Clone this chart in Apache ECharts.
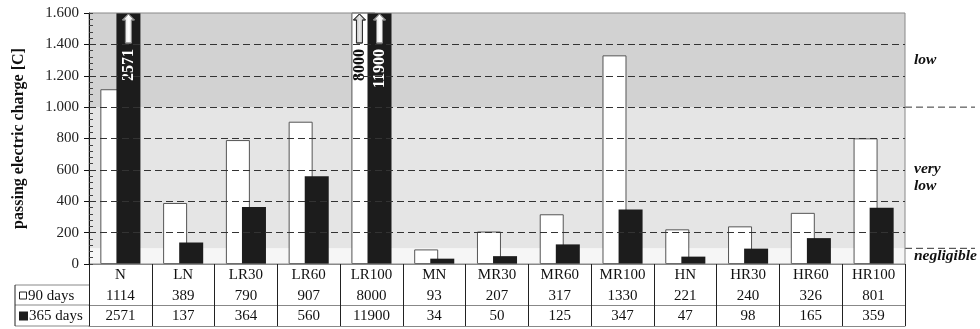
<!DOCTYPE html>
<html>
<head>
<meta charset="utf-8">
<script src="https://cdn.jsdelivr.net/npm/echarts@6/dist/echarts.min.js"></script>
<style>
  html, body { margin: 0; padding: 0; background: #fff; }
  #chart { width: 980px; height: 329px; }
</style>
</head>
<body>
<div id="chart"></div>
<script>
// Passing electric charge per mix, after 90 and 365 days
const categories = ['N', 'LN', 'LR30', 'LR60', 'LR100', 'MN', 'MR30', 'MR60', 'MR100', 'HN', 'HR30', 'HR60', 'HR100'];
const days90  = [1114, 389, 790, 907, 8000, 93, 207, 317, 1330, 221, 240, 326, 801];
const days365 = [2571, 137, 364, 560, 11900, 34, 50, 125, 347, 47, 98, 165, 359];
const seriesNames = ['90 days', '365 days'];

// Risk classes shown as shaded bands
const bandNames  = ['negligible', 'very\nlow', 'low'];
const bandLimits = [0, 100, 1000, 1600];
const gridValues = [200, 400, 600, 800, 1000, 1200, 1400];

const Y_MAX = 1600;
const SERIF = '"Liberation Serif", "Times New Roman", serif';
const BAR_W = 24;
const BAR_GAP = '-33%';
const BAND_COLORS = ['#f6f6f6', '#e5e5e5', '#d2d2d2'];

const chart = echarts.init(document.getElementById('chart'), null, { renderer: 'canvas' });

const fmtThousands = v => v >= 1000 ? Math.floor(v / 1000) + '.' + String(v % 1000).padStart(3, '0') : String(v);

// Values beyond the axis maximum get an arrow and a rotated value label
const overflow = [];
[days90, days365].forEach((arr, s) => arr.forEach((v, i) => { if (v > Y_MAX) overflow.push([i, v, s]); }));

function tableAxis(data, offset, showLabels, lineColor) {
  return {
    type: 'category', data: data, position: 'bottom', offset: offset, z: 4,
    axisLine: { show: true, lineStyle: { color: lineColor, width: 1 } },
    axisTick: { show: false },
    axisLabel: { show: showLabels, interval: 0, margin: 4, fontFamily: SERIF, fontSize: 15, color: '#111' },
    splitLine: { show: false }
  };
}

const option = {
  animation: false,
  backgroundColor: '#fff',
  grid: { left: 89, right: 75, top: 13, bottom: 65, show: true, borderColor: '#888', borderWidth: 1, backgroundColor: 'transparent', z: 3 },
  xAxis: [
    {
      type: 'category', data: categories, position: 'bottom', z: 4,
      axisLine: { show: true, lineStyle: { color: '#111', width: 1 } },
      axisTick: { show: true, interval: 0, alignWithLabel: false, length: 62, lineStyle: { color: '#222' } },
      axisLabel: { interval: 0, margin: 4, fontFamily: SERIF, fontSize: 15, color: '#111' },
      splitLine: { show: false }
    },
    tableAxis(days90.map(String), 21, true, '#888'),
    tableAxis(days365.map(String), 41, true, '#888'),
    tableAxis(categories.map(() => ''), 62, false, '#888')
  ],
  yAxis: [
    {
      type: 'value', min: 0, max: Y_MAX, interval: 200, z: 4,
      name: 'passing electric charge [C]', nameLocation: 'middle', nameRotate: 90, nameGap: 62,
      nameTextStyle: { fontFamily: SERIF, fontSize: 16, fontWeight: 'bold', color: '#111' },
      axisLine: { show: true, lineStyle: { color: '#111', width: 1 } },
      axisTick: { show: true, length: 5, lineStyle: { color: '#111' } },
      axisLabel: { margin: 10, fontFamily: SERIF, fontSize: 15, color: '#222', formatter: fmtThousands },
      splitLine: { show: false }
    },
    {
      // minor tick marks on the inner side of the axis
      type: 'value', min: 0, max: Y_MAX, interval: 40, position: 'left', z: 4,
      axisLine: { show: false },
      axisTick: { show: true, inside: true, length: 4, lineStyle: { color: '#444' } },
      axisLabel: { show: false },
      splitLine: { show: false }
    }
  ],
  series: [
    {
      type: 'line', data: [], z: 0, silent: true,
      markArea: {
        silent: true,
        label: { show: false },
        data: bandNames.map((n, k) => [
          { yAxis: bandLimits[k], itemStyle: { color: BAND_COLORS[k] } },
          { yAxis: bandLimits[k + 1] }
        ])
      }
    },
    {
      type: 'line', data: [], z: 1, silent: true,
      markLine: {
        silent: true, symbol: 'none',
        label: { show: false },
        lineStyle: { type: [7, 4], color: '#333', width: 1 },
        data: gridValues.map(v => ({ yAxis: v }))
      }
    },
    {
      name: seriesNames[0], type: 'bar', data: days90, z: 2,
      barWidth: BAR_W, barGap: BAR_GAP,
      itemStyle: { color: '#fff', borderColor: '#555', borderWidth: 1 }
    },
    {
      name: seriesNames[1], type: 'bar', data: days365, z: 2,
      barWidth: BAR_W, barGap: BAR_GAP,
      itemStyle: { color: '#1c1c1c' }
    },
    {
      type: 'custom', data: overflow, z: 3, clip: false, silent: true,
      renderItem: function (params, api) {
        const i = api.value(0), v = api.value(1), s = api.value(2);
        const base = api.coord([i, Y_MAX]);
        let lay = api.barLayout ? api.barLayout({ barWidth: BAR_W, barGap: BAR_GAP, count: 2 }) : null;
        let off0, off1;
        if (lay && lay.length === 2 && lay[0].offset != null) {
          off0 = lay[0].offset; off1 = lay[1].offset;
        } else {
          const gap = -0.33 * BAR_W;
          const total = 2 * BAR_W + gap;
          off0 = -total / 2; off1 = off0 + BAR_W + gap;
        }
        let cx;
        if (s === 0) {
          // centre of the visible part of the front-covered bar
          cx = base[0] + off0 + (off1 - off0) / 2;
        } else {
          cx = base[0] + off1 + BAR_W / 2;
        }
        const top = base[1] + 1;
        const pts = [
          [cx, top], [cx + 6, top + 6], [cx + 3, top + 6], [cx + 3, top + 29],
          [cx - 3, top + 29], [cx - 3, top + 6], [cx - 6, top + 6]
        ];
        const arrowFill = s === 1
          ? { type: 'linear', x: 0, y: 0, x2: 1, y2: 0, colorStops: [{ offset: 0, color: '#c8c8c8' }, { offset: 0.5, color: '#ffffff' }, { offset: 1, color: '#d8d8d8' }] }
          : { type: 'linear', x: 0, y: 0, x2: 1, y2: 0, colorStops: [{ offset: 0, color: '#9a9a9a' }, { offset: 0.5, color: '#e8e8e8' }, { offset: 1, color: '#b0b0b0' }] };
        return {
          type: 'group',
          children: [
            {
              type: 'polygon',
              shape: { points: pts },
              style: { fill: arrowFill, stroke: s === 1 ? '#888' : '#333', lineWidth: 1 }
            },
            {
              type: 'text',
              x: cx, y: top + 35,
              rotation: Math.PI / 2,
              style: {
                text: String(v), align: 'right', verticalAlign: 'middle',
                fill: s === 1 ? '#fff' : '#111',
                font: 'bold 16px ' + SERIF
              }
            }
          ]
        };
      }
    }
  ]
};

chart.setOption(option);

// Band labels on the right, outer dashed class limits and the table legend cells
function drawExtras() {
  const yPx = v => chart.convertToPixel({ yAxisIndex: 0 }, v);
  const xRight = 980 - option.grid.right;
  const yBase = yPx(0);
  const leftX = option.grid.left;
  const els = [];

  [bandLimits[1], bandLimits[2]].forEach(v => {
    els.push({
      type: 'line', silent: true,
      shape: { x1: xRight, y1: yPx(v), x2: 975, y2: yPx(v) },
      style: { stroke: '#333', lineWidth: 1, lineDash: [7, 4] }
    });
  });

  bandNames.forEach((n, k) => {
    const mid = (bandLimits[k] + bandLimits[k + 1]) / 2;
    els.push({
      type: 'text', silent: true, x: xRight + 9, y: yPx(mid),
      style: { text: n, font: 'italic bold 15.5px ' + SERIF, fill: '#111', verticalAlign: 'middle', align: 'left', lineHeight: 17 }
    });
  });

  const rows = [yBase + 21, yBase + 41, yBase + 62];
  const cellLeft = 15;
  rows.forEach(y => els.push({
    type: 'line', silent: true, shape: { x1: cellLeft, y1: y, x2: leftX, y2: y }, style: { stroke: '#888', lineWidth: 1 }
  }));
  els.push({ type: 'line', silent: true, shape: { x1: cellLeft, y1: rows[0], x2: cellLeft, y2: rows[2] }, style: { stroke: '#222', lineWidth: 1 } });

  const mid1 = (rows[0] + rows[1]) / 2, mid2 = (rows[1] + rows[2]) / 2;
  els.push({ type: 'rect', silent: true, shape: { x: 19.5, y: mid1 - 3, width: 7, height: 7 }, style: { fill: '#fff', stroke: '#222', lineWidth: 1 } });
  els.push({ type: 'rect', silent: true, shape: { x: 19, y: mid2 - 4, width: 9, height: 9 }, style: { fill: '#1c1c1c' } });
  els.push({ type: 'text', silent: true, x: 28, y: mid1 + 1, style: { text: seriesNames[0], font: '15px ' + SERIF, fill: '#111', verticalAlign: 'middle' } });
  els.push({ type: 'text', silent: true, x: 29, y: mid2 + 1, style: { text: seriesNames[1], font: '15px ' + SERIF, fill: '#111', verticalAlign: 'middle' } });

  chart.setOption({ graphic: els });
}
drawExtras();
</script>
</body>
</html>
